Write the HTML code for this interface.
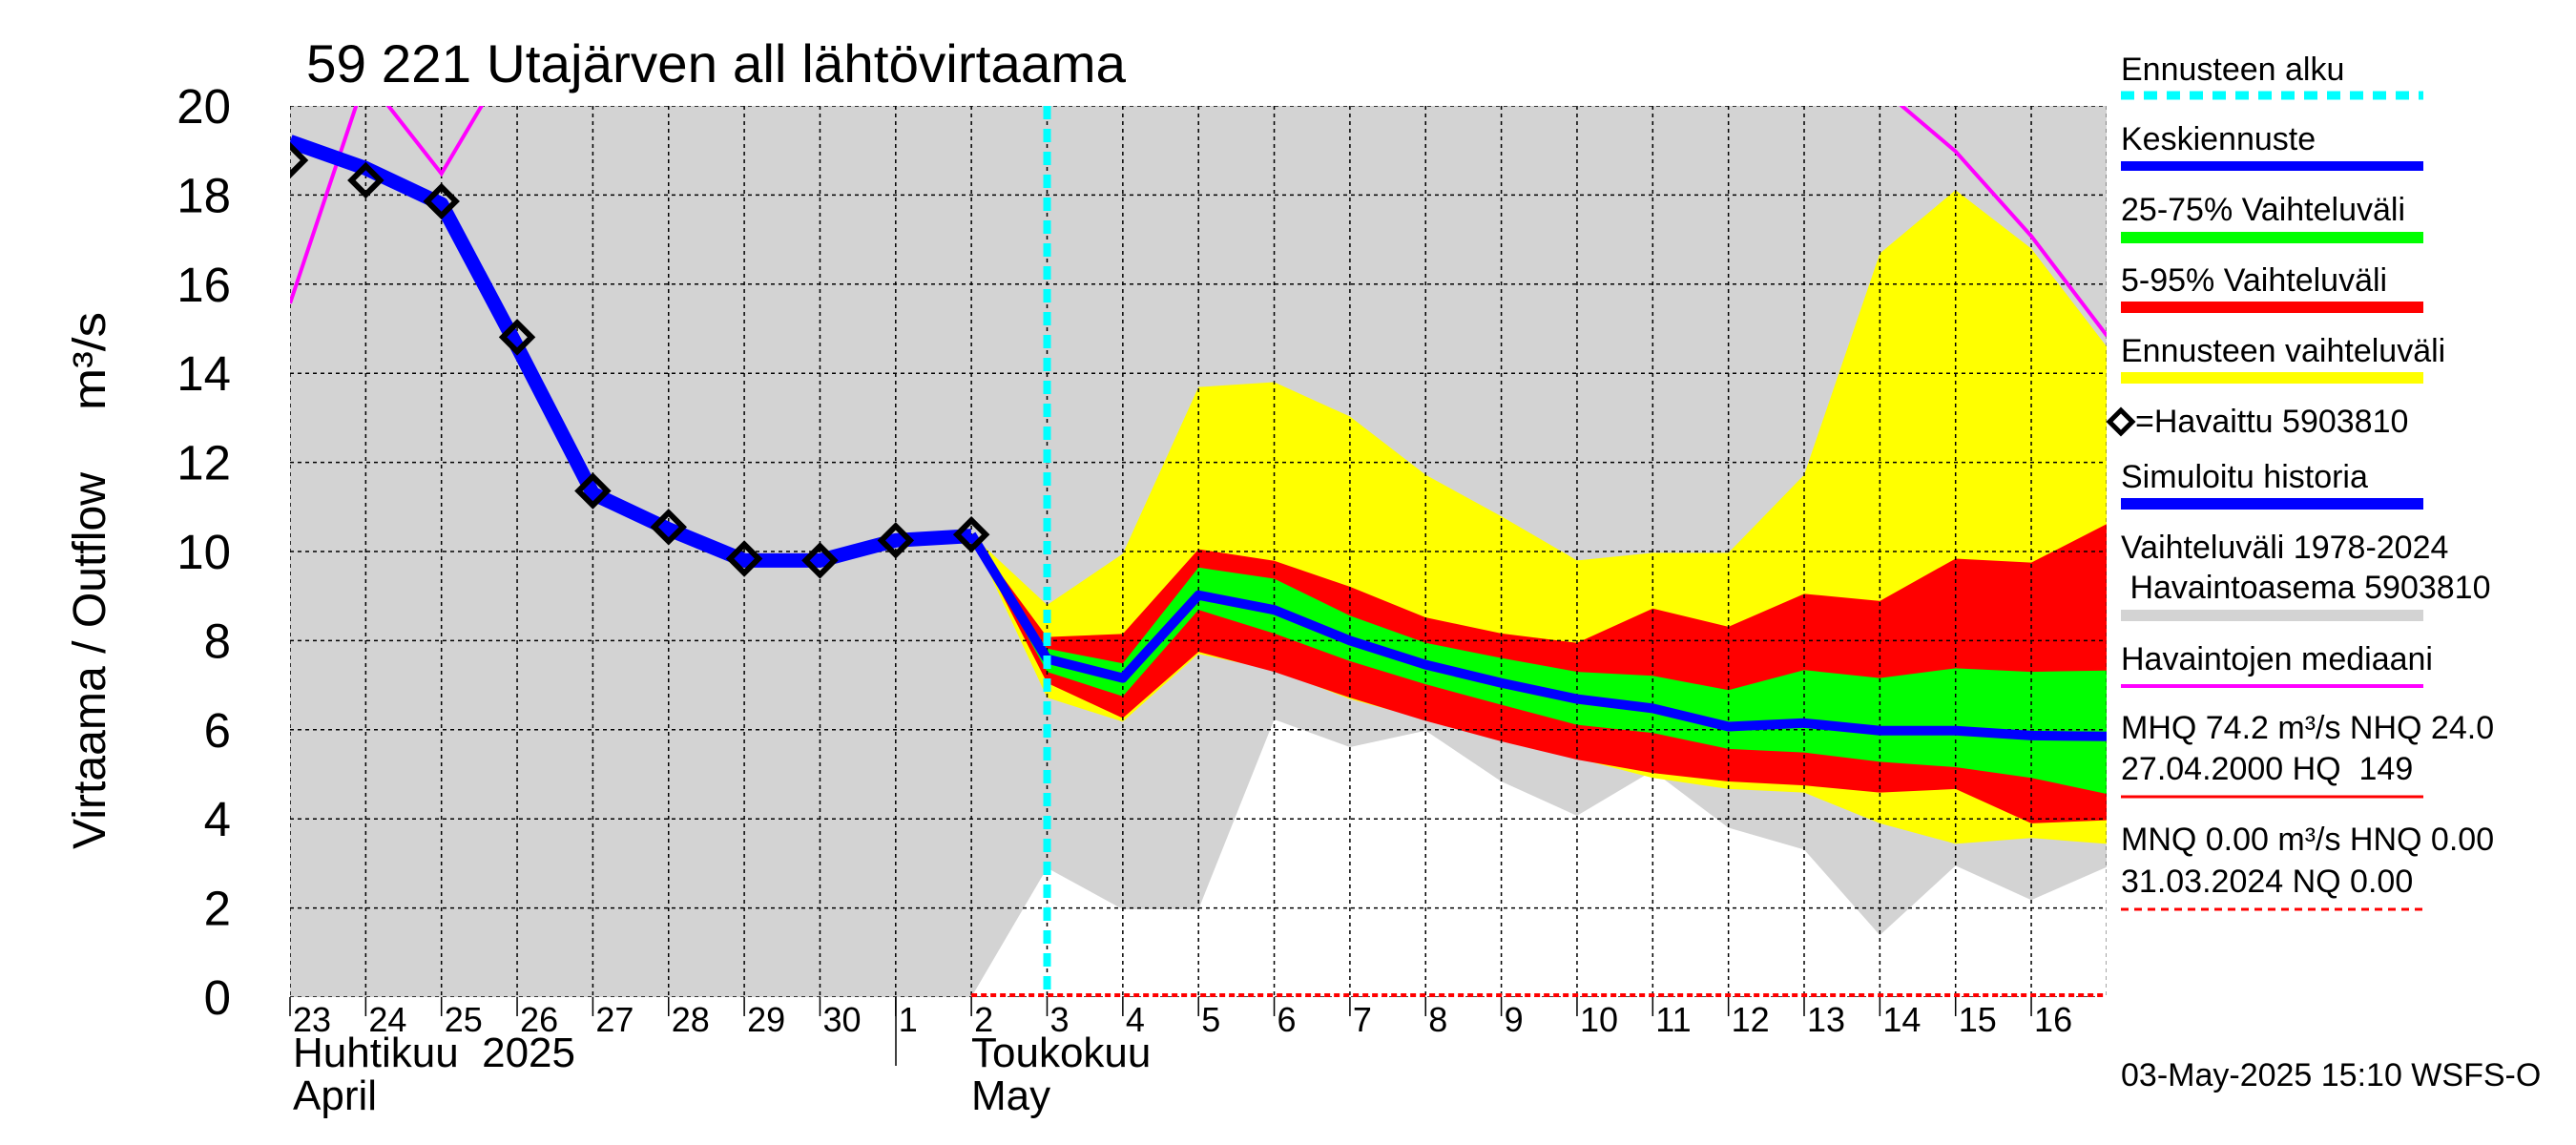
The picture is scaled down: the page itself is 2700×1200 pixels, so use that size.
<!DOCTYPE html>
<html><head><meta charset="utf-8"><style>
html,body{margin:0;padding:0;background:#fff;}
svg{display:block;font-family:"Liberation Sans",sans-serif;}
</style></head><body>
<svg id="chart" width="2700" height="1200" viewBox="0 0 2700 1200">
<defs><clipPath id="plotclip"><rect x="304" y="111" width="1904" height="934"/></clipPath></defs>
<g id="plot" clip-path="url(#plotclip)"></g>
<g id="axes"></g>
<g id="legend"></g>
</svg>
<script>
const days = ["23","24","25","26","27","28","29","30","1","2","3","4","5","6","7","8","9","10","11","12","13","14","15","16"];
const yTicks = [0,2,4,6,8,10,12,14,16,18,20];
const observed = [18.78,18.33,17.86,14.81,11.36,10.55,9.84,9.8,10.25,10.38];
const simulated = [19.2,18.6,17.8,14.6,11.3,10.5,9.8,9.8,10.25,10.35];
const fcDays0 = 9;
const median = [10.38,7.59,7.16,9.02,8.69,8.0,7.46,7.05,6.69,6.48,6.07,6.15,5.98,5.98,5.87,5.85];
const p75 = [10.38,7.82,7.49,9.64,9.39,8.56,7.95,7.61,7.30,7.21,6.89,7.34,7.16,7.38,7.30,7.33];
const p25 = [10.38,7.30,6.75,8.69,8.16,7.54,7.02,6.56,6.11,5.93,5.57,5.49,5.28,5.16,4.92,4.56];
const p95 = [10.38,8.08,8.15,10.05,9.79,9.21,8.52,8.16,7.95,8.72,8.31,9.05,8.89,9.84,9.75,10.62];
const p05 = [10.38,7.05,6.26,7.75,7.30,6.72,6.20,5.74,5.33,5.03,4.84,4.75,4.59,4.67,3.90,3.97];
const fcMax = [10.38,8.80,9.95,13.69,13.80,13.03,11.72,10.79,9.80,9.97,9.97,11.72,16.69,18.11,16.8,14.59];
const fcMin = [10.38,6.72,6.18,7.70,7.34,6.69,6.23,5.82,5.36,4.92,4.67,4.59,3.90,3.44,3.57,3.44];
const histMax = [25,25,25,25,25,25,25,25,25,25,25,25,25,25,25,25,25,25,25,25,25,25,25,25,25];
const histMin = [0,0,0,0,0,0,0,0,0,0,2.90,1.97,1.97,6.23,5.61,5.98,4.84,4.07,5.08,3.80,3.31,1.39,2.95,2.18,2.92];
const obsMedian = [15.57,20.65,18.48,21.35,24,25,25,25,25,25,25,25,25,25,25,25,25,25,25,25,25,20.42,18.98,17.08,14.84];
const forecastStart = 10;

const NS="http://www.w3.org/2000/svg";
const X0=304, DX=79.35, Y0=1045, DY=46.7, YTOP=111;
const xs=d=>X0+d*DX, ys=v=>Y0-v*DY;
function el(tag,attrs,parent,text){const e=document.createElementNS(NS,tag);for(const k in attrs)e.setAttribute(k,attrs[k]);if(text!==undefined)e.textContent=text;parent.appendChild(e);return e;}
const plot=document.getElementById('plot'), axes=document.getElementById('axes'), leg=document.getElementById('legend');
function pts(arr,off){return arr.map((v,i)=>xs(i+off)+','+ys(v)).join(' ');}
function band(up,lo,off,fill,name){
  const p=pts(up,off)+' '+lo.map((v,i)=>[i,v]).reverse().map(([i,v])=>xs(i+off)+','+ys(v)).join(' ');
  const e=el('polygon',{points:p,fill:fill},plot);
  
  
}
el('rect',{x:304,y:YTOP,width:1904,height:Y0-YTOP,fill:'#fff'},plot);
band(histMax,histMin,0,'#d3d3d3','historical-range');
band(fcMax,fcMin,fcDays0,'#ffff00','forecast-range');
band(p95,p05,fcDays0,'#ff0000','band-5-95');
band(p75,p25,fcDays0,'#00ff00','band-25-75');
for(let i=0;i<=24;i++){el('line',{x1:xs(i),x2:xs(i),y1:YTOP,y2:Y0,stroke:'#000','stroke-width':1.5,'stroke-dasharray':'4,4'},plot);}
for(const t of yTicks){el('line',{x1:304,x2:2208,y1:ys(t),y2:ys(t),stroke:'#000','stroke-width':1.5,'stroke-dasharray':'4,4'},plot);}
let m=el('polyline',{points:pts(obsMedian,0),fill:'none',stroke:'#ff00ff','stroke-width':4},plot);


el('line',{x1:xs(9),x2:2208,y1:Y0-2,y2:Y0-2,stroke:'#ff0000','stroke-width':4,'stroke-dasharray':'6,4'},plot);
let s=el('polyline',{points:pts(simulated,0),fill:'none',stroke:'#0000ff','stroke-width':15,'stroke-linejoin':'round'},plot);


let f=el('polyline',{points:pts(median,fcDays0),fill:'none',stroke:'#0000ff','stroke-width':10,'stroke-linejoin':'round'},plot);


let c=el('line',{x1:xs(forecastStart),x2:xs(forecastStart),y1:YTOP,y2:Y0,stroke:'#00ffff','stroke-width':8,'stroke-dasharray':'14,10'},plot);


observed.forEach((v,i)=>{const x=xs(i),y=ys(v),r=15;
  const d=el('polygon',{points:`${x},${y-r} ${x+r},${y} ${x},${y+r} ${x-r},${y}`,fill:'none',stroke:'#000','stroke-width':6},plot);
  
  });
for(const t of yTicks){el('text',{x:242,y:ys(t)+18,'text-anchor':'end','font-size':51},axes,String(t));}
days.forEach((d,i)=>{el('line',{x1:xs(i),x2:xs(i),y1:Y0,y2:Y0+20,stroke:'#000','stroke-width':1.5},axes);
  el('text',{x:xs(i)+3,y:1081,'font-size':36},axes,d);});
el('line',{x1:939,x2:939,y1:Y0,y2:1117,stroke:'#000','stroke-width':1.5},axes);
el('text',{x:307,y:1118,'font-size':44},axes,'Huhtikuu\u00A0\u00A02025');
el('text',{x:307,y:1163,'font-size':44},axes,'April');
el('text',{x:1018,y:1118,'font-size':44},axes,'Toukokuu');
el('text',{x:1018,y:1163,'font-size':44},axes,'May');
el('text',{x:0,y:0,'font-size':48,textLength:395,lengthAdjust:'spacingAndGlyphs',transform:'translate(110,890) rotate(-90)'},axes,'Virtaama / Outflow');
el('text',{x:0,y:0,'font-size':48,textLength:103,lengthAdjust:'spacingAndGlyphs',transform:'translate(110,430) rotate(-90)'},axes,'m³/s');
el('text',{x:321,y:86,'font-size':56,textLength:859,lengthAdjust:'spacingAndGlyphs'},axes,'59 221 Utajärven all lähtövirtaama');
const L=2223,LR=2540,fs=34;
function lt(y,t){el('text',{x:L,y:y,'font-size':fs},leg,t);}
function ll(y,col,w,dash){const a={x1:L,x2:LR,y1:y,y2:y,stroke:col,'stroke-width':w};if(dash)a['stroke-dasharray']=dash;el('line',a,leg);}
lt(84,'Ennusteen alku');ll(100,'#00ffff',9,'14,10');
lt(157,'Keskiennuste');ll(174,'#0000ff',10);
lt(231,'25-75% Vaihteluväli');ll(249,'#00ff00',12);
lt(305,'5-95% Vaihteluväli');ll(322,'#ff0000',12);
lt(379,'Ennusteen vaihteluväli');ll(396,'#ffff00',12);
el('polygon',{points:`${L},${442-12} ${L+12},442 ${L},${442+12} ${L-12},442`,fill:'none',stroke:'#000','stroke-width':5},leg);
el('text',{x:L+15,y:453,'font-size':fs},leg,'=Havaittu 5903810');
lt(511,'Simuloitu historia');ll(528,'#0000ff',12);
lt(585,'Vaihteluväli 1978-2024');lt(627,'\u00A0Havaintoasema 5903810');ll(645,'#d3d3d3',12);
lt(702,'Havaintojen mediaani');ll(719,'#ff00ff',4);
lt(774,'MHQ 74.2 m³/s NHQ 24.0');lt(817,'27.04.2000 HQ\u00A0\u00A0149');ll(835,'#ff0000',3);
lt(891,'MNQ 0.00 m³/s HNQ 0.00');lt(935,'31.03.2024 NQ 0.00');ll(953,'#ff0000',3,'8,6');
lt(1138,'03-May-2025 15:10 WSFS-O');
</script>
</body></html>
